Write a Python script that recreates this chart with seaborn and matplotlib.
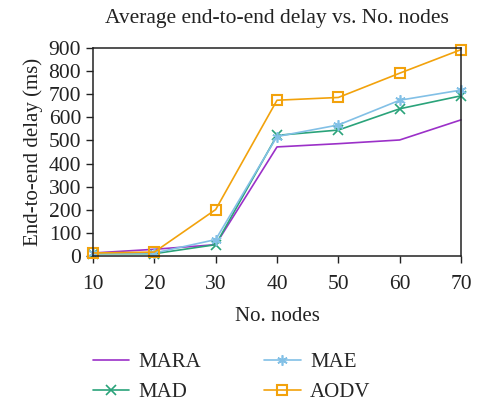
import matplotlib
matplotlib.use("Agg")
import matplotlib.pyplot as plt
import seaborn as sns
import pandas as pd

nodes = [10, 20, 30, 40, 50, 60, 70]
mara = [13, 29, 49, 472, 486, 502, 589]
mad = [10, 10, 49, 522, 545, 637, 693]
mae = [12, 13, 71, 517, 567, 674, 718]
aodv = [13, 17, 201, 674, 686, 791, 893]
series_names = ["MARA", "MAD", "MAE", "AODV"]
yticks = [0, 100, 200, 300, 400, 500, 600, 700, 800, 900]

sns.set_theme(style="ticks")
plt.rcParams["font.family"] = ["Liberation Serif", "DejaVu Serif"]

df = pd.DataFrame({"nodes": nodes * 4,
                   "delay": mara + mad + mae + aodv,
                   "series": sum([[n] * len(nodes) for n in series_names], [])})

palette = {"MARA": "#9b30c8", "MAD": "#2aa37a", "MAE": "#82c0e6", "AODV": "#f2a20c"}
markers = {"MARA": None, "MAD": "x", "MAE": (6, 2, 0), "AODV": "s"}

fig = plt.figure(figsize=(4.84, 4.04), dpi=100)
ax = fig.add_axes([93 / 484, 1 - 256 / 404, (461 - 93) / 484, (256 - 48) / 404])

for name in series_names:
    sub = df[df.series == name]
    c = palette[name]
    kw = dict(marker=markers[name], markersize=7.5, markeredgewidth=1.2,
              markeredgecolor=c, markerfacecolor=c)
    if name == "AODV":
        kw.update(markerfacecolor="none", markersize=7.5, markeredgewidth=1.5)
    if markers[name] is None:
        kw = {}
    sns.lineplot(data=sub, x="nodes", y="delay", ax=ax, color=c,
                 linewidth=1.2, label=name, clip_on=False, **kw)

ax.set_xlim(10, 70)
ax.set_ylim(0, 900)
ax.set_xticks(nodes)
ax.set_yticks(yticks)
ax.tick_params(labelsize=15.5, direction="out", length=5, width=1, colors="#222222")
ax.tick_params(axis="x", pad=9)
for s in ax.spines.values():
    s.set_linewidth(1.1)
    s.set_color("#222222")
ax.set_xlabel("No. nodes", fontsize=15, color="#222222", labelpad=9)
ax.set_ylabel("End-to-end delay (ms)", fontsize=15, color="#222222", labelpad=4)
ax.set_title("Average end-to-end delay vs. No. nodes", fontsize=15.5, color="#222222", pad=18)

ax.legend(loc="upper left", bbox_to_anchor=(0.0, -0.465), ncol=2, frameon=False,
          fontsize=15, handlelength=1.75, columnspacing=3.0, labelspacing=0.5,
          handletextpad=0.45, borderpad=0, borderaxespad=0)

fig.savefig("out.png", dpi=100)
